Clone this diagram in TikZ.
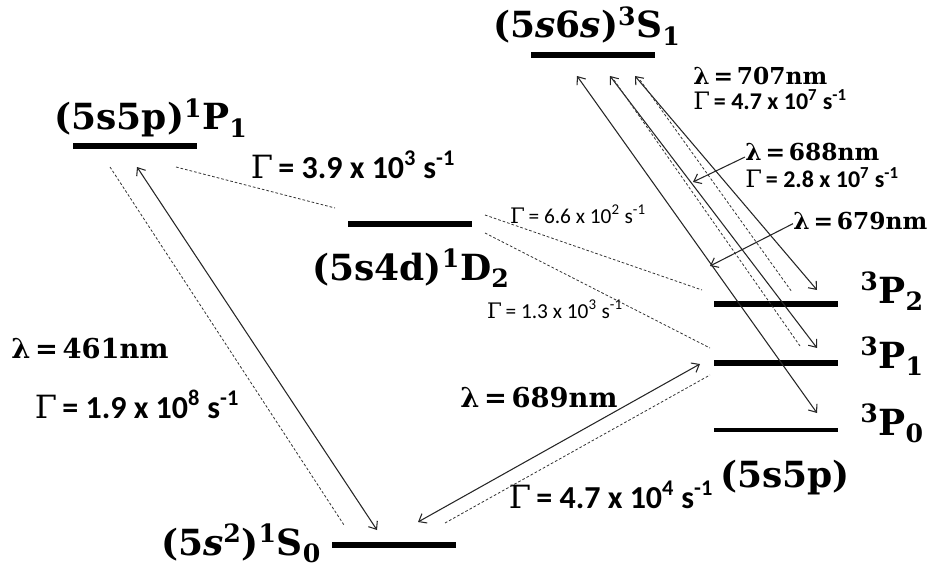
\documentclass[tikz,border=0pt]{standalone}
\usepackage{fontspec}
\usepackage{graphicx}
\setmainfont{DejaVu Serif}
\newfontfamily\ratefont{Carlito}
\usetikzlibrary{arrows.meta}

\newcommand\up[1]{\textsuperscript{#1}}
\newcommand\dn[1]{\textsubscript{#1}}
\newcommand\rate[2]{{\rmfamily\mdseries Γ}\,= #1 x 10\up{#2} s\up{-1}}
\newcommand\wl[1]{λ\,=\,#1nm}

\begin{document}
\begin{tikzpicture}[x=0.75pt, y=-0.75pt,
  bar/.style={rectangle, fill=black, inner sep=0pt, minimum width=93pt, minimum height=4.5pt},
  term/.style={font=\fontsize{27}{30}\selectfont\bfseries, inner sep=0pt, anchor=base},
  wave/.style={font=\fontsize{20.5}{24}\selectfont\bfseries, inner sep=0pt, anchor=base},
  wavesm/.style={font=\fontsize{17.5}{20}\selectfont\bfseries, inner sep=0pt, anchor=base west},
  rate/.style={font=\ratefont\bfseries\fontsize{24}{26}\selectfont, inner sep=0pt, anchor=base},
  ratemd/.style={font=\ratefont\bfseries\fontsize{18}{20}\selectfont, inner sep=0pt, anchor=base west},
  ratesm/.style={font=\ratefont\fontsize{16}{18}\selectfont, inner sep=0pt, anchor=base},
  trans/.style={<->, line width=0.8pt, black!85},
  decay/.style={line width=0.6pt, dash pattern=on 2pt off 1.5pt, black!80},
  >={Straight Barb[length=5pt,width=8pt]}
]
\useasboundingbox (0,0) rectangle (929,567);

% levels
\node[bar] (P1) at (135,146) {};
\node[bar] (D2) at (409.5,224) {};
\node[bar] (S1) at (593,55) {};
\node[bar] (tP2) at (775.5,304) {};
\node[bar] (tP1) at (775.5,363) {};
\node[bar, minimum height=3.6pt] (tP0) at (775.5,430) {};
\node[bar] (S0) at (393.5,545) {};

% level names
\node[term] (nP1) at (151,130) {(5s5p)\up{1}P\dn{1}};
\node[term] (nD2) at (411,280) {(5s4d)\up{1}D\dn{2}};
\node[term] (nS1) at (587,38) {(5\textit{s}6\textit{s})\up{3}S\dn{1}};
\node[term] (nP2) at (892,303) {\up{3}P\dn{2}};
\node[term] (nPa) at (892,368) {\up{3}P\dn{1}};
\node[term] (nP0) at (892,435) {\up{3}P\dn{0}};
\node[term] (nsp) at (785,487) {(5s5p)};
\node[term] (nS0) at (241,555) {(5\textit{s}\up{2})\up{1}S\dn{0}};

% wavelengths and rates
\node[wave] (l461) at (90,358) {\wl{461}};
\node[rate] (g461) at (137,418) {\rate{1.9}{8}};
\node[wave] (l689) at (539,407) {\wl{689}};
\node[rate] (g689) at (611,508) {\rate{4.7}{4}};
\node[rate] (gPD) at (353,178) {\rate{3.9}{3}};
\node[ratesm] (gD2) at (578,223) {\rate{6.6}{2}};
\node[ratesm] (gD1) at (555,318) {\rate{1.3}{3}};
\node[wavesm] (l707) at (693,85) {\wl{707}};
\node[ratemd] (g707) at (693,109) {\rate{4.7}{7}};
\node[wavesm] (l688) at (745,161) {\wl{688}};
\node[ratemd] (g688) at (745,187) {\rate{2.8}{7}};
\node[wavesm] (l679) at (793,229) {\wl{679}};

% arrow ends
\coordinate (a461) at (137,167); \coordinate (b461) at (377,530);
\coordinate (c461) at (110,167); \coordinate (d461) at (344,525);
\coordinate (aPD) at (176,167); \coordinate (bPD) at (335,208);
\coordinate (a689) at (418,522); \coordinate (b689) at (700,364);
\coordinate (c689) at (445,523); \coordinate (d689) at (710,375);
\coordinate (aD2) at (485,215); \coordinate (bD2) at (702,290);
\coordinate (aD1) at (485,233); \coordinate (bD1) at (710,348);
\coordinate (a679) at (577,76); \coordinate (b679) at (817,413);
\coordinate (a688) at (610,76); \coordinate (b688) at (817,348);
\coordinate (c688) at (614,80); \coordinate (d688) at (800,346);
\coordinate (a707) at (635,76); \coordinate (b707) at (817,290);
\coordinate (c707) at (640,80); \coordinate (d707) at (792,292);
\coordinate (p688) at (693,182); \coordinate (p679) at (710,266);

% transitions
\draw[trans] (a461) -- (b461);
\draw[decay] (c461) -- (d461);
\draw[decay] (aPD) -- (bPD);
\draw[trans] (a689) -- (b689);
\draw[decay] (c689) -- (d689);
\draw[decay] (aD2) -- (bD2);
\draw[decay] (aD1) -- (bD1);
\draw[trans] (a679) -- (b679);
\draw[trans] (a688) -- (b688);
\draw[decay] (c688) -- (d688);
\draw[trans] (a707) -- (b707);
\draw[decay] (c707) -- (d707);
\draw[->, line width=0.8pt, black!85] ([yshift=3pt]l688.base west) -- (p688);
\draw[->, line width=0.8pt, black!85] ([yshift=4pt]l679.base west) -- (p679);
\end{tikzpicture}
\end{document}
